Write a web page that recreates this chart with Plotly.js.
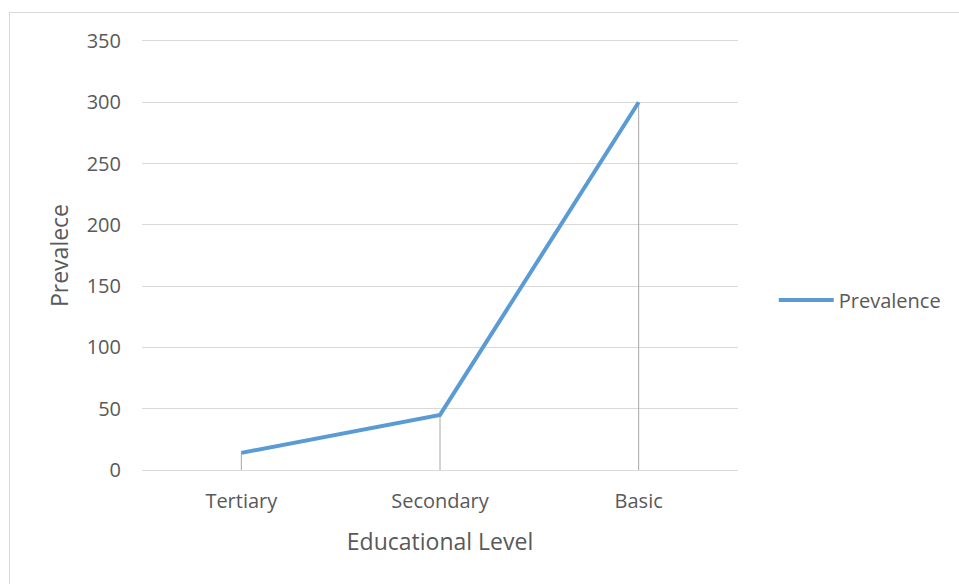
<!DOCTYPE html>
<html>
<head>
<meta charset="utf-8">
<script src="https://cdn.plot.ly/plotly-3.0.1.min.js"></script>
<style>
  html, body { margin: 0; padding: 0; background: #ffffff; }
  #frame { position: absolute; left: 9px; top: 12px; width: 960px; height: 580px;
           border: 1px solid #d9d9d9; box-sizing: border-box; }
  #chart { position: absolute; left: 0; top: 0; width: 959px; height: 584px; }
</style>
</head>
<body>
<div id="frame"></div>
<div id="chart"></div>
<script>
// Prevalence by educational level
const levels = ["Tertiary", "Secondary", "Basic"];
const prevalence = [14, 45, 300];
const yTicks = [0, 50, 100, 150, 200, 250, 300, 350];

const textColor = "#595959";
const fontFamily = "'Open Sans', sans-serif";

// Drop lines from each point down to the category axis
const dropLines = {
  x: levels,
  y: prevalence,
  type: "scatter",
  mode: "markers",
  marker: { size: 0.1, color: "rgba(0,0,0,0)" },
  error_y: {
    type: "data",
    symmetric: false,
    array: prevalence.map(() => 0),
    arrayminus: prevalence,
    width: 0,
    thickness: 1,
    color: "#a6a6a6"
  },
  showlegend: false,
  hoverinfo: "skip"
};

const series = {
  x: levels,
  y: prevalence,
  type: "scatter",
  mode: "lines",
  name: "Prevalence",
  line: { color: "#5b9bd5", width: 4 }
};

const layout = {
  width: 959,
  height: 584,
  paper_bgcolor: "rgba(0,0,0,0)",
  plot_bgcolor: "rgba(0,0,0,0)",
  margin: { l: 142, r: 221, t: 41, b: 114 },
  font: { family: fontFamily, color: textColor, size: 17 },
  xaxis: {
    type: "category",
    range: [-0.5, 2.5],
    showgrid: false,
    zeroline: false,
    showline: true,
    mirror: true,
    linecolor: "#d9d9d9",
    linewidth: 1,
    ticks: "",
    ticklabelstandoff: 13,
    tickfont: { size: 20, color: textColor },
    title: { text: "Educational Level", font: { size: 23, color: textColor }, standoff: 20 }
  },
  yaxis: {
    range: [0, 350],
    tickvals: yTicks,
    ticktext: yTicks.map(String),
    showgrid: true,
    gridcolor: "#d9d9d9",
    gridwidth: 1,
    zeroline: false,
    showline: false,
    ticks: "",
    ticklabelstandoff: 20,
    tickfont: { size: 20, color: textColor },
    title: { text: "Prevalece", font: { size: 23, color: textColor }, standoff: 11 }
  },
  showlegend: true,
  legend: {
    x: 1.06,
    xanchor: "left",
    y: 0.396,
    yanchor: "middle",
    font: { size: 20, color: textColor },
    bgcolor: "rgba(0,0,0,0)",
    itemwidth: 55
  }
};

Plotly.newPlot("chart", [dropLines, series], layout, { displayModeBar: false, staticPlot: true });
</script>
</body>
</html>
